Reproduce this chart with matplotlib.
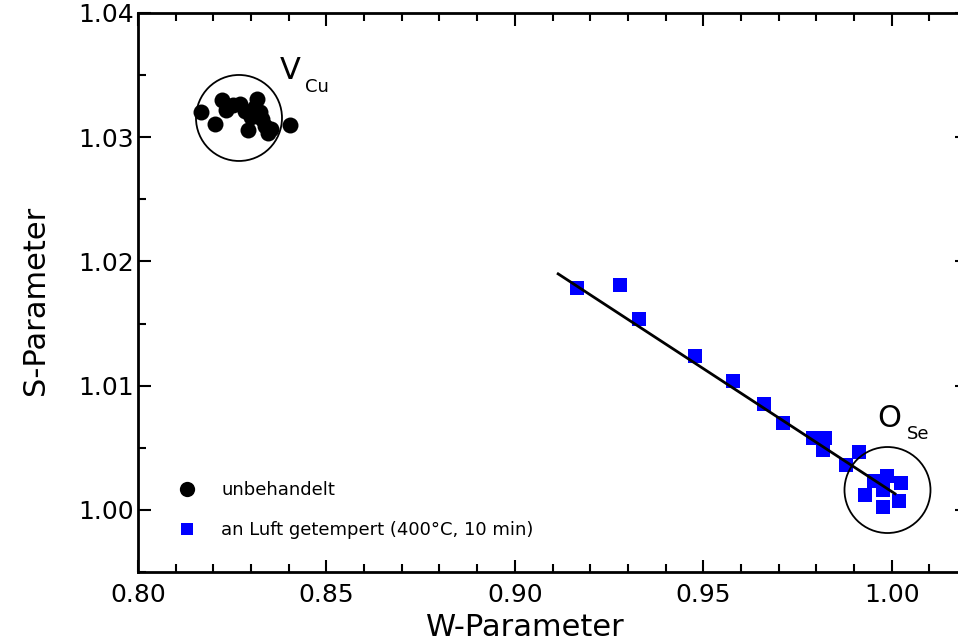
import matplotlib
matplotlib.use("Agg")
import matplotlib.pyplot as plt
from matplotlib.patches import Ellipse
from matplotlib.lines import Line2D
from matplotlib.ticker import MultipleLocator, FormatStrFormatter

plt.rcParams['font.family'] = ['DejaVu Sans']

# untreated sample (W, S)
w_untreated = [0.8167, 0.8204, 0.8223, 0.8234, 0.8252, 0.8271, 0.8284, 0.8292,
               0.8300, 0.8311, 0.8316, 0.8324, 0.8329, 0.8337, 0.8345, 0.8353, 0.8403]
s_untreated = [1.0320, 1.0311, 1.0330, 1.0322, 1.0326, 1.0327, 1.0321, 1.0306,
               1.0316, 1.0324, 1.0331, 1.0320, 1.0315, 1.0309, 1.0303, 1.0307, 1.0310]

# annealed in air (400 °C, 10 min)
w_annealed = [0.9164, 0.9279, 0.9330, 0.9479, 0.9578, 0.9662, 0.9713, 0.9792,
              0.9822, 0.9817, 0.9878, 0.9913, 0.9953, 0.9988, 1.0024, 0.9929,
              0.9978, 0.9978, 1.0019]
s_annealed = [1.0179, 1.0181, 1.0154, 1.0124, 1.0104, 1.0085, 1.0070, 1.0058,
              1.0058, 1.0048, 1.0036, 1.0047, 1.0023, 1.0027, 1.0022, 1.0012,
              1.0016, 1.0002, 1.0007]

# linear trend through the annealed data
fit_w = [0.9115, 1.0009]
fit_s = [1.0190, 1.0013]

labels = ["unbehandelt", "an Luft getempert (400°C, 10 min)"]

W_PX, H_PX, DPI = 958, 643, 100
fig = plt.figure(figsize=(W_PX / DPI, H_PX / DPI), dpi=DPI)
ax = fig.add_axes([138 / W_PX, 1 - 572 / H_PX, (967 - 138) / W_PX, (572 - 13) / H_PX])

ax.set_xlim(0.80, 1.02)
ax.set_ylim(0.995, 1.04)

ax.plot(fit_w, fit_s, color='black', lw=2.0, zorder=3)
ax.plot(w_untreated, s_untreated, 'o', color='black', ms=11.5, mew=0, zorder=2)
ax.plot(w_annealed, s_annealed, 's', color='#0000ff', ms=9.5, mew=0, zorder=2)

# circles marking the two defect states (drawn round in pixel space)
px_x = 829 / 0.22
px_y = 559 / 0.045
r_px = 43
for cx, cy in [(0.8268, 1.03155), (0.9989, 1.0016)]:
    ax.add_patch(Ellipse((cx, cy), 2 * r_px / px_x, 2 * r_px / px_y,
                         fill=False, ec='black', lw=1.3, zorder=4))

ax.text(0.8377, 1.03469, "V", fontsize=22, ha='left', va='baseline')
ax.text(0.8443, 1.03364, "Cu", fontsize=13, ha='left', va='baseline')
ax.text(0.9961, 1.00667, "O", fontsize=22, ha='left', va='baseline')
ax.text(1.0041, 1.00571, "Se", fontsize=13, ha='left', va='baseline')

ax.xaxis.set_major_locator(MultipleLocator(0.05))
ax.xaxis.set_minor_locator(MultipleLocator(0.01))
ax.yaxis.set_major_locator(MultipleLocator(0.01))
ax.yaxis.set_minor_locator(MultipleLocator(0.005))
ax.xaxis.set_major_formatter(FormatStrFormatter('%.2f'))
ax.yaxis.set_major_formatter(FormatStrFormatter('%.2f'))

ax.tick_params(which='both', direction='in', top=True, right=True, width=1.5,
               labelsize=18, colors='black')
ax.tick_params(which='major', length=9)
ax.tick_params(which='minor', length=5.5)
ax.tick_params(axis='x', pad=8)
ax.tick_params(axis='y', pad=3)
for sp in ax.spines.values():
    sp.set_linewidth(2.0)

ax.set_xlabel("W-Parameter", fontsize=22)
ax.set_ylabel("S-Parameter", fontsize=22)
ax.xaxis.set_label_coords((525 - 138) / 829, -(613 - 572) / 559)
ax.yaxis.set_label_coords((50 - 138) / 829, (572 - 300) / 559)

handles = [
    Line2D([], [], ls='none', marker='o', color='black', ms=11, mew=0),
    Line2D([], [], ls='none', marker='s', color='#0000ff', ms=8.5, mew=0),
]
ax.legend(handles, labels, loc='lower left', frameon=False, fontsize=13,
          bbox_to_anchor=((176 - 138) / 829, (572 - 539) / 559),
          borderaxespad=0, borderpad=0, handlelength=1.2, handletextpad=1.3,
          labelspacing=1.2)

fig.savefig("out.png", dpi=DPI)
